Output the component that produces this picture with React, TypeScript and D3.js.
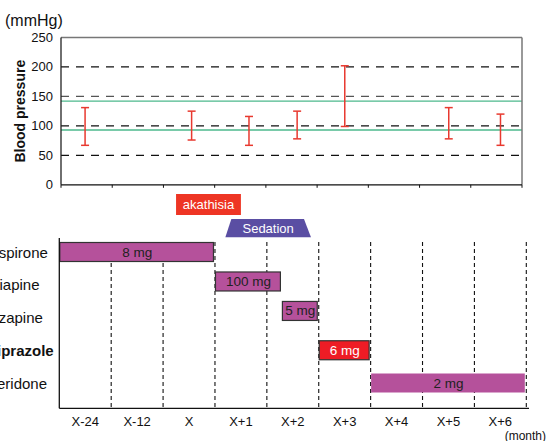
import React from "react";
import * as d3 from "d3";

const months = ["X-24", "X-12", "X", "X+1", "X+2", "X+3", "X+4", "X+5", "X+6"];
const yTicks = [0, 50, 100, 150, 200, 250];
const gridValues = [50, 100, 150, 200];
const refLines = [142, 93];

// blood pressure measurements: position (in month-band units), systolic, diastolic
const bpPos = [0.47, 2.55, 3.67, 4.61, 5.54, 7.57, 8.58];
const bpHigh = [131, 125, 116, 125, 202, 131, 120];
const bpLow = [67, 76, 67, 78, 99, 78, 67];

const drugs = ["Perospirone", "Quetiapine", "Olanzapine", "Aripiprazole", "Risperidone"];
const drugBold = [false, false, false, true, false];

const doseLabels = ["8 mg", "100 mg", "5 mg", "6 mg", "2 mg"];
const doseStart = [0, 3, 4.29, 5, 6];
const doseEnd = [3, 4.29, 5, 6, 9];
const doseLane = [0, 0.9, 1.8, 3, 4];
const doseColor = ["#b5519b", "#b5519b", "#b5519b", "#ee1c25", "#b5519b"];
const doseText = ["#222", "#222", "#222", "#fff", "#222"];
const doseBorder = [true, true, true, true, false];

const events = ["akathisia", "Sedation"];
const eventStart = [2.25, 3.2];
const eventEnd = [3.5, 4.85];
const eventColor = ["#ee3524", "#5a4ea3"];

const FONT = "'Liberation Sans', Arial, Helvetica, sans-serif";

export default function App() {
  const W = 547, H = 441;
  const xTop = d3.scaleLinear().domain([0, 9]).range([61, 522]);
  const yTop = d3.scaleLinear().domain([0, 250]).range([184.8, 37.5]);
  const xBot = d3.scaleLinear().domain([0, 9]).range([59.3, 526.3]);
  const lane = d3.scaleLinear().domain([0, 4]).range([252, 383]);
  const barH = 19;
  const axisY = 408.3;
  const capW = 4;

  return (
    <svg width={W} height={H} style={{ position: "absolute", left: 0, top: 0, fontFamily: FONT }}>
      <rect width={W} height={H} fill="#fff" />
      {/* Top chart */}
      <text x={5} y={20} fontSize={16} dominantBaseline="central" fill="#111">(mmHg)</text>
      <text transform={`translate(20,${(yTop(0) + yTop(250)) / 2}) rotate(-90)`} textAnchor="middle" dominantBaseline="central" fontSize={14} fontWeight="bold" fill="#111">Blood pressure</text>
      {yTicks.map((t) => (
        <text key={t} x={53} y={yTop(t)} textAnchor="end" dominantBaseline="central" fontSize={13} fill="#111">{t}</text>
      ))}
      {gridValues.map((g) => (
        <line key={g} x1={xTop(0)} x2={xTop(9)} y1={yTop(g)} y2={yTop(g)} stroke={g === 150 ? "#555" : "#111"} strokeWidth={1.2} strokeDasharray="8,7" />
      ))}
      {refLines.map((r) => (
        <line key={r} x1={xTop(0)} x2={xTop(9)} y1={yTop(r)} y2={yTop(r)} stroke="#4db88c" strokeWidth={1.3} />
      ))}
      {bpPos.map((p, i) => {
        const cx = xTop(p);
        return (
          <g key={i} stroke="#e8392f" strokeWidth={1.5}>
            <line x1={cx} x2={cx} y1={yTop(bpHigh[i])} y2={yTop(bpLow[i])} />
            <line x1={cx - capW} x2={cx + capW} y1={yTop(bpHigh[i])} y2={yTop(bpHigh[i])} />
            <line x1={cx - capW} x2={cx + capW} y1={yTop(bpLow[i])} y2={yTop(bpLow[i])} />
          </g>
        );
      })}
      <line x1={xTop(0)} x2={xTop(9)} y1={yTop(250)} y2={yTop(250)} stroke="#777" strokeWidth={1.5} />
      <line x1={xTop(9)} x2={xTop(9)} y1={yTop(250)} y2={yTop(0)} stroke="#777" strokeWidth={1.5} />
      <line x1={xTop(0)} x2={xTop(0)} y1={yTop(250)} y2={yTop(0)} stroke="#222" strokeWidth={1.3} />
      <line x1={xTop(0)} x2={xTop(9)} y1={yTop(0)} y2={yTop(0)} stroke="#111" strokeWidth={1.3} />
      {d3.range(0, 10).map((i) => (
        <line key={i} x1={xTop(i)} x2={xTop(i)} y1={yTop(0)} y2={yTop(0) + 3} stroke="#111" strokeWidth={1} />
      ))}

      {/* Events */}
      <rect x={xBot(eventStart[0])} y={194} width={xBot(eventEnd[0]) - xBot(eventStart[0])} height={21} fill={eventColor[0]} />
      <text x={(xBot(eventStart[0]) + xBot(eventEnd[0])) / 2} y={204.5} textAnchor="middle" dominantBaseline="central" fontSize={13} fill="#fff">{events[0]}</text>
      {(() => {
        const a = xBot(eventStart[1]), b = xBot(eventEnd[1]);
        const t = 219, bt = 237.3;
        return (
          <g>
            <path d={`M${a},${bt} L${a + 6},${t} L${b - 7},${t} L${b},${bt} Z`} fill={eventColor[1]} />
            <text x={(a + b) / 2} y={(t + bt) / 2} textAnchor="middle" dominantBaseline="central" fontSize={13} fill="#fff">{events[1]}</text>
          </g>
        );
      })()}

      {/* Bottom chart */}
      {d3.range(1, 10).map((i) => (
        <line key={i} x1={xBot(i)} x2={xBot(i)} y1={242} y2={axisY} stroke="#111" strokeWidth={1.1} strokeDasharray="4,3" />
      ))}
      {doseLabels.map((d, i) => {
        const x0 = xBot(doseStart[i]), x1 = xBot(doseEnd[i]);
        const cy = lane(doseLane[i]);
        return (
          <g key={i}>
            <rect x={x0 + 0.5} y={cy - barH / 2} width={x1 - x0 - 2} height={barH} fill={doseColor[i]} stroke={doseBorder[i] ? "#333" : "none"} strokeWidth={1.2} />
            <text x={(x0 + x1) / 2} y={cy} textAnchor="middle" dominantBaseline="central" fontSize={13.5} fill={doseText[i]}>{d}</text>
          </g>
        );
      })}
      {drugs.map((d, i) => (
        <text key={d} x={-33} y={lane(i)} dominantBaseline="central" fontSize={15} fontWeight={drugBold[i] ? "bold" : "normal"} fill="#111">{d}</text>
      ))}
      <line x1={xBot(0)} x2={xBot(0)} y1={238} y2={axisY} stroke="#111" strokeWidth={1.3} />
      <line x1={xBot(0)} x2={529} y1={axisY} y2={axisY} stroke="#111" strokeWidth={1.3} />
      {months.map((m, i) => (
        <text key={m} x={xBot(i + 0.5)} y={421.7} textAnchor="middle" dominantBaseline="central" fontSize={13} fill="#111">{m}</text>
      ))}
      <text x={546} y={436} textAnchor="end" dominantBaseline="central" fontSize={12} fill="#111">(month)</text>
    </svg>
  );
}
